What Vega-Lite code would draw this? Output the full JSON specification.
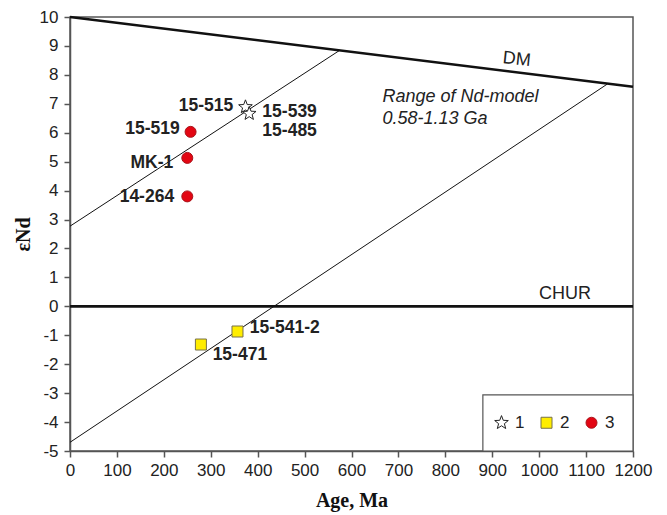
{
  "$schema": "https://vega.github.io/schema/vega-lite/v6.json",
  "width": 563,
  "height": 434,
  "autosize": "none",
  "padding": {"left": 70, "top": 17, "right": 34, "bottom": 64},
  "background": "white",
  "config": {
    "view": {"stroke": "#555", "strokeWidth": 1.5},
    "font": "Liberation Sans",
    "axis": {"grid": false, "domainColor": "#555", "domainWidth": 1.5, "tickColor": "#555", "tickWidth": 1.5, "tickSize": 6, "labelFont": "Liberation Sans", "labelFontSize": 17, "labelColor": "#222", "labelOverlap": false, "labelFlush": false, "labelExpr": "'' + datum.value", "titleFont": "Liberation Serif", "titleFontSize": 20, "titleFontWeight": "bold", "titleColor": "#111"},
    "axisY": {"labelOverlap": false},
    "axisQuantitative": {"labelOverlap": false}
  },
  "datasets": {
    "box": [{"x1": 880, "x2": 1200, "y1": -5, "y2": -3.06}],
    "thick": [
      {"name": "DM", "x1": 0, "y1": 10, "x2": 1200, "y2": 7.59},
      {"name": "CHUR", "x1": 0, "y1": 0, "x2": 1200, "y2": 0}
    ],
    "thin": [
      {"name": "model 0.58 Ga", "x1": 0, "y1": 2.77, "x2": 575, "y2": 8.85},
      {"name": "model 1.13 Ga", "x1": 0, "y1": -4.7, "x2": 1145, "y2": 7.68}
    ],
    "samples": [
      {"sample": "15-515", "group": "1", "age": 374, "eNd": 6.89},
      {"sample": "15-539/15-485", "group": "1", "age": 382, "eNd": 6.66},
      {"sample": "15-471", "group": "2", "age": 279, "eNd": -1.32},
      {"sample": "15-541-2", "group": "2", "age": 357, "eNd": -0.87},
      {"sample": "15-519", "group": "3", "age": 257, "eNd": 6.03},
      {"sample": "MK-1", "group": "3", "age": 250, "eNd": 5.13},
      {"sample": "14-264", "group": "3", "age": 250, "eNd": 3.8}
    ],
    "labelsRight": [
      {"text": "15-515", "x": 348, "y": 6.94},
      {"text": "15-519", "x": 234, "y": 6.13},
      {"text": "MK-1", "x": 220, "y": 4.96},
      {"text": "14-264", "x": 222, "y": 3.78}
    ],
    "labelsLeft": [
      {"text": "15-539", "x": 410, "y": 6.7},
      {"text": "15-485", "x": 410, "y": 6.07},
      {"text": "15-541-2", "x": 383, "y": -0.75},
      {"text": "15-471", "x": 304, "y": -1.67}
    ],
    "notes": [
      {"text": "Range of Nd-model", "x": 666, "y": 7.25},
      {"text": "0.58-1.13 Ga", "x": 666, "y": 6.46}
    ],
    "dm": [{"text": "DM", "x": 952, "y": 8.53}],
    "chur": [{"text": "CHUR", "x": 1055, "y": 0.44}]
  },
  "layer": [
    {
      "data": {"name": "box"},
      "mark": {"type": "rect", "fill": "white", "stroke": "#555", "strokeWidth": 1.2},
      "encoding": {
        "x": {"field": "x1", "type": "quantitative", "scale": {"domain": [0, 1200], "nice": false, "zero": false},
              "axis": {"tickCount": 12, "title": "Age, Ma", "labelPadding": 5, "titlePadding": 12, "labelOverlap": false, "labelFlush": false}},
        "x2": {"field": "x2"},
        "y": {"field": "y1", "type": "quantitative", "scale": {"domain": [-5, 10], "nice": false, "zero": false},
              "axis": {"tickCount": 15, "title": "εNd", "labelPadding": 6, "titlePadding": 6, "labelOverlap": false, "labelFlush": false}},
        "y2": {"field": "y2"}
      }
    },
    {
      "data": {"name": "thick"},
      "mark": {"type": "rule", "color": "#111", "strokeWidth": 2.6},
      "encoding": {
        "x": {"field": "x1", "type": "quantitative"},
        "y": {"field": "y1", "type": "quantitative"},
        "x2": {"field": "x2"},
        "y2": {"field": "y2"}
      }
    },
    {
      "data": {"name": "thin"},
      "mark": {"type": "rule", "color": "#111", "strokeWidth": 1},
      "encoding": {
        "x": {"field": "x1", "type": "quantitative"},
        "y": {"field": "y1", "type": "quantitative"},
        "x2": {"field": "x2"},
        "y2": {"field": "y2"}
      }
    },
    {
      "data": {"name": "samples"},
      "mark": {"type": "point", "filled": true, "size": 121, "strokeWidth": 1, "opacity": 1},
      "encoding": {
        "x": {"field": "age", "type": "quantitative"},
        "y": {"field": "eNd", "type": "quantitative"},
        "shape": {"field": "group", "type": "nominal",
          "scale": {"domain": ["1", "2", "3"], "range": ["M0,-1.3L0.323,-0.445L1.236,-0.402L0.523,0.17L0.764,1.052L0,0.55L-0.764,1.052L-0.523,0.17L-1.236,-0.402L-0.323,-0.445Z", "square", "circle"]},
          "legend": {"orient": "none", "legendX": 423, "legendY": 397, "direction": "horizontal", "title": null, "padding": 0, "symbolSize": 121, "symbolStrokeWidth": 1, "labelFontSize": 17, "labelFont": "Liberation Sans", "labelColor": "#222", "labelOffset": 5, "columnPadding": 13}},
        "fill": {"field": "group", "type": "nominal", "scale": {"domain": ["1", "2", "3"], "range": ["#ffffff", "#ffed00", "#e30613"]}},
        "stroke": {"field": "group", "type": "nominal", "scale": {"domain": ["1", "2", "3"], "range": ["#222222", "#77704a", "#a8141a"]}}
      }
    },
    {
      "data": {"name": "labelsRight"},
      "mark": {"type": "text", "align": "right", "baseline": "middle", "fontSize": 17.5, "fontWeight": "bold", "color": "#222"},
      "encoding": {
        "x": {"field": "x", "type": "quantitative"},
        "y": {"field": "y", "type": "quantitative"},
        "text": {"field": "text"}
      }
    },
    {
      "data": {"name": "labelsLeft"},
      "mark": {"type": "text", "align": "left", "baseline": "middle", "fontSize": 17.5, "fontWeight": "bold", "color": "#222"},
      "encoding": {
        "x": {"field": "x", "type": "quantitative"},
        "y": {"field": "y", "type": "quantitative"},
        "text": {"field": "text"}
      }
    },
    {
      "data": {"name": "notes"},
      "mark": {"type": "text", "align": "left", "baseline": "middle", "fontSize": 18, "fontStyle": "italic", "color": "#222"},
      "encoding": {
        "x": {"field": "x", "type": "quantitative"},
        "y": {"field": "y", "type": "quantitative"},
        "text": {"field": "text"}
      }
    },
    {
      "data": {"name": "dm"},
      "mark": {"type": "text", "align": "center", "baseline": "middle", "fontSize": 18, "angle": 6, "color": "#222"},
      "encoding": {
        "x": {"field": "x", "type": "quantitative"},
        "y": {"field": "y", "type": "quantitative"},
        "text": {"field": "text"}
      }
    },
    {
      "data": {"name": "chur"},
      "mark": {"type": "text", "align": "center", "baseline": "middle", "fontSize": 18, "color": "#222"},
      "encoding": {
        "x": {"field": "x", "type": "quantitative"},
        "y": {"field": "y", "type": "quantitative"},
        "text": {"field": "text"}
      }
    }
  ]
}
